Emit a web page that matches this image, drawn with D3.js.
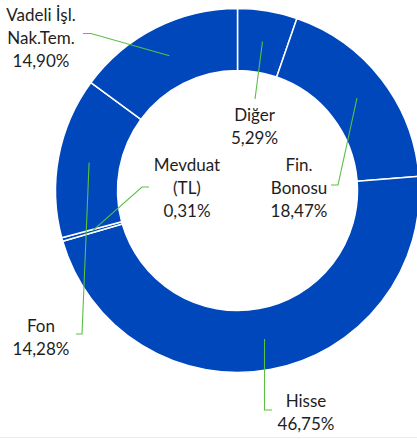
<!DOCTYPE html>
<html>
<head>
<meta charset="utf-8">
<script src="https://cdn.jsdelivr.net/npm/d3@7"></script>
<style>
  html, body { margin: 0; padding: 0; background: #fff; }
  svg { display: block; }
</style>
</head>
<body>
<svg id="chart" width="417" height="439"></svg>
<script>
// ---- data ----
const categories = ["Diğer", "Fin. Bonosu", "Hisse", "Mevduat (TL)", "Fon", "Vadeli İşl. Nak.Tem."];
const values = [5.29, 18.47, 46.75, 0.31, 14.28, 14.90];
const labelLines = [
  ["Diğer"],
  ["Fin.", "Bonosu"],
  ["Hisse"],
  ["Mevduat", "(TL)"],
  ["Fon"],
  ["Vadeli İşl.", "Nak.Tem."]
];

// ---- layout (positions of labels / leader lines) ----
const labelLayout = [
  { x: 254.5, y: 120.5, elbow: null,          end: [255, 99] },
  { x: 299,   y: 171,   elbow: [338, 185],    end: [331, 185] },
  { x: 306,   y: 406.5, elbow: [264.5, 410],  end: [272, 410] },
  { x: 187,   y: 171,   elbow: [142, 187],    end: [149, 187] },
  { x: 41,    y: 331.5, elbow: [82, 334],     end: [76, 334] },
  { x: 41,    y: 21,    elbow: [91, 33.5],    end: [83, 33.5] }
];

const W = 417, H = 439;
const cx = 237.5, cy = 190.5, R = 182, r0 = 120;
const lineH = 23;
const fmt = v => d3.format(".2f")(v).replace(".", ",") + "%";

const svg = d3.select("#chart");

// bottom faint border
svg.append("line")
  .attr("x1", 0).attr("x2", W).attr("y1", 437.5).attr("y2", 437.5)
  .attr("stroke", "#ebebeb").attr("stroke-width", 1);

const pie = d3.pie().sort(null).value(d => d)(values);
const arc = d3.arc().innerRadius(r0).outerRadius(R);
const midArc = d3.arc().innerRadius((r0 + R) / 2).outerRadius((r0 + R) / 2);

const g = svg.append("g").attr("transform", `translate(${cx},${cy})`);

g.selectAll("path.slice")
  .data(pie)
  .join("path")
  .attr("class", "slice")
  .attr("d", arc)
  .attr("fill", "#0047BB")
  .attr("stroke", "#ffffff")
  .attr("stroke-width", 1.5)
  .attr("stroke-linejoin", "round");

// leader lines
pie.forEach((p, i) => {
  const c = midArc.centroid(p);
  const start = [cx + c[0], cy + c[1]];
  const L = labelLayout[i];
  const pts = [start];
  if (L.elbow) pts.push(L.elbow);
  pts.push(L.end);
  svg.append("path")
    .attr("d", d3.line()(pts))
    .attr("fill", "none")
    .attr("stroke", "#5BBF45")
    .attr("stroke-width", 1.1);
});

// labels
pie.forEach((p, i) => {
  const L = labelLayout[i];
  const lines = labelLines[i].concat([fmt(values[i])]);
  const t = svg.append("text")
    .attr("text-anchor", "middle")
    .attr("font-family", "Lato, 'Open Sans', sans-serif")
    .attr("font-size", 17)
    .attr("fill", "#1e1e1e");
  lines.forEach((s, k) => {
    t.append("tspan").attr("x", L.x).attr("y", L.y + k * lineH).text(s);
  });
});
</script>
</body>
</html>
